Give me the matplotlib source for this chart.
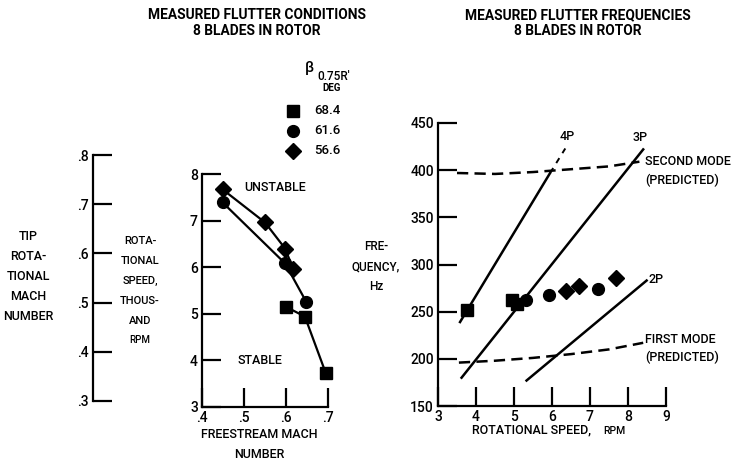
import matplotlib
matplotlib.use("Agg")
import matplotlib.pyplot as plt
from matplotlib.ticker import FuncFormatter

# Condicoes de flutter medidas (Mach livre x rotacao em milhares de rpm)
quad_mach = [0.60, 0.645, 0.695]
quad_rpm = [5.15, 4.94, 3.72]
circ_mach = [0.449, 0.598, 0.648]
circ_rpm = [7.39, 6.08, 5.26]
losango_mach = [0.449, 0.55, 0.598, 0.617]
losango_rpm = [7.67, 6.96, 6.40, 5.96]

# Frequencias de flutter medidas (rotacao x Hz)
quad_rot = [3.75, 4.96, 5.07]
quad_freq = [252, 262, 258]
circ_rot = [5.32, 5.93, 7.20]
circ_freq = [262, 268, 274]
losango_rot = [6.37, 6.72, 7.68]
losango_freq = [272, 277, 286]

# Linhas de harmonicos (extremos)
p4_rot = [3.58, 5.95]
p4_freq = [239, 397]
p4_trac_rot = [5.95, 6.35]
p4_trac_freq = [397, 423]
p3_rot = [3.62, 8.40]
p3_freq = [180, 422]
p2_rot = [5.33, 8.49]
p2_freq = [177, 283]

# Modos previstos
modo2_rot = [3.5, 4.5, 5.5, 6.5, 7.5, 8.3]
modo2_freq = [397, 396, 398, 401, 404, 409]
modo1_rot = [3.55, 4.5, 5.5, 6.5, 7.5, 8.4]
modo1_freq = [196, 198, 201, 205, 210, 217]

legenda_valores = ["68.4", "61.6", "56.6"]
marcadores = ["s", "o", "D"]
tamanhos = [8.5, 8.5, 8]

plt.rcParams["font.family"] = ["Roboto", "DejaVu Sans"]
plt.rcParams["font.weight"] = "medium"

W, H = 734, 467
fig = plt.figure(figsize=(W / 100, H / 100), dpi=100)


def eixo(x0, x1, y0, y1):
    # cria eixos a partir de coordenadas em pixels
    return fig.add_axes([x0 / W, 1 - y1 / H, (x1 - x0) / W, (y1 - y0) / H])


def texto(x, y, s, **kw):
    kw.setdefault("ha", "center")
    kw.setdefault("va", "center")
    kw.setdefault("fontsize", 9)
    fig.text(x / W, 1 - y / H, s, **kw)


def estilo(ax):
    for lado in ["top", "right"]:
        ax.spines[lado].set_visible(False)
    for lado in ["left", "bottom"]:
        ax.spines[lado].set_linewidth(1.6)
    ax.tick_params(direction="in", length=14, width=1.6, labelsize=10, pad=3)


sem_zero = FuncFormatter(lambda v, p: ("%.1f" % v).lstrip("0"))

# Escala auxiliar: Mach de rotacao na ponta
ax_m = eixo(93, 140, 155, 401)
ax_m.set_ylim(0.3, 0.8)
ax_m.set_yticks([0.3, 0.4, 0.5, 0.6, 0.7, 0.8])
ax_m.yaxis.set_major_formatter(sem_zero)
ax_m.set_xticks([])
estilo(ax_m)
ax_m.spines["bottom"].set_visible(False)
ax_m.patch.set_alpha(0)

# Grafico 1: condicoes de flutter
ax1 = eixo(202, 328, 174, 407)
ax1.plot(quad_mach, quad_rpm, "k-", lw=1.6, marker="s", ms=8.5)
ax1.plot(circ_mach, circ_rpm, "k-", lw=1.6, marker="o", ms=8.5)
ax1.plot(losango_mach, losango_rpm, "k-", lw=1.6, marker="D", ms=8)
ax1.set_xlim(0.4, 0.7)
ax1.set_ylim(3, 8)
ax1.set_xticks([0.4, 0.5, 0.6, 0.7])
ax1.xaxis.set_major_formatter(sem_zero)
ax1.set_yticks([3, 4, 5, 6, 7, 8])
estilo(ax1)
for s in ax1.spines.values():
    s.set_clip_on(False)
for l in ax1.lines:
    l.set_clip_on(False)
ax1.text(0.574, 7.72, "UNSTABLE", ha="center", va="center", fontsize=9)
ax1.text(0.538, 4.0, "STABLE", ha="center", va="center", fontsize=9)

# Grafico 2: frequencias de flutter
ax2 = eixo(438, 666, 123, 406)
ax2.plot(p4_rot, p4_freq, "k-", lw=1.8)
ax2.plot(p4_trac_rot, p4_trac_freq, "k", lw=1.4, dashes=(3, 3))
ax2.plot(p3_rot, p3_freq, "k-", lw=1.8)
ax2.plot(p2_rot, p2_freq, "k-", lw=1.8)
ax2.plot(modo2_rot, modo2_freq, "k", lw=1.8, dashes=(4.5, 2.5))
ax2.plot(modo1_rot, modo1_freq, "k", lw=1.8, dashes=(4.5, 2.5))
ax2.plot(quad_rot, quad_freq, "ks", ms=8.5, ls="none")
ax2.plot(circ_rot, circ_freq, "ko", ms=8.5, ls="none")
ax2.plot(losango_rot, losango_freq, "kD", ms=8, ls="none")
ax2.set_xlim(3, 9)
ax2.set_ylim(150, 450)
ax2.set_xticks(range(3, 10))
ax2.set_yticks(range(150, 451, 50))
estilo(ax2)
for s in ax2.spines.values():
    s.set_clip_on(False)
for l in ax2.lines:
    l.set_clip_on(False)
ax2.text(6.39, 436, "4P", ha="center", va="center", fontsize=9)
ax2.text(8.33, 435, "3P", ha="center", va="center", fontsize=9)
ax2.text(8.55, 284, "2P", ha="left", va="center", fontsize=9)
ax2.text(8.45, 409, "SECOND MODE", ha="left", va="center", fontsize=9)
ax2.text(8.45, 389, "(PREDICTED)", ha="left", va="center", fontsize=9)
ax2.text(8.45, 221, "FIRST MODE", ha="left", va="center", fontsize=9)
ax2.text(8.45, 202, "(PREDICTED)", ha="left", va="center", fontsize=9)

# Titulos
texto(257, 15, "MEASURED FLUTTER CONDITIONS", fontweight="bold", fontsize=9.9)
texto(257, 31, "8 BLADES IN ROTOR", fontweight="bold", fontsize=9.9)
texto(578, 15, "MEASURED FLUTTER FREQUENCIES", fontweight="bold", fontsize=9.9)
texto(578, 31, "8 BLADES IN ROTOR", fontweight="bold", fontsize=9.9)

# Rotulos dos eixos
for i, linha in enumerate(["TIP", "ROTA-", "TIONAL", "MACH", "NUMBER"]):
    texto(28, 237 + 20 * i, linha, fontsize=9)
for i, linha in enumerate(["ROTA-", "TIONAL", "SPEED,", "THOUS-", "AND"]):
    texto(140, 241 + 20 * i, linha, fontsize=8)
texto(140, 340, "RPM", fontsize=7)
for i, linha in enumerate(["FRE-", "QUENCY,", "Hz"]):
    texto(376, 247 + 20 * i, linha, fontsize=8.5)
texto(259, 435, "FREESTREAM MACH", fontsize=9)
texto(259, 455, "NUMBER", fontsize=9)
texto(532, 430, "ROTATIONAL SPEED,", fontsize=9)
texto(603, 431, "RPM", fontsize=7.5, ha="left")

# Legenda
texto(309, 68, "\u03b2", fontsize=11)
texto(317, 77, "0.75R'", fontsize=8.5, ha="left")
texto(332, 88, "DEG", fontsize=7, fontweight="bold")
for i, (val, mk, ms) in enumerate(zip(legenda_valores, marcadores, tamanhos)):
    yy = 111 + 20 * i
    fig.lines.append(plt.Line2D([293 / W], [1 - yy / H], marker=mk, ms=ms,
                                color="k", ls="none", transform=fig.transFigure))
    texto(314, yy, val, fontsize=9.5, ha="left")

fig.savefig("out.png", dpi=100, facecolor="white")
